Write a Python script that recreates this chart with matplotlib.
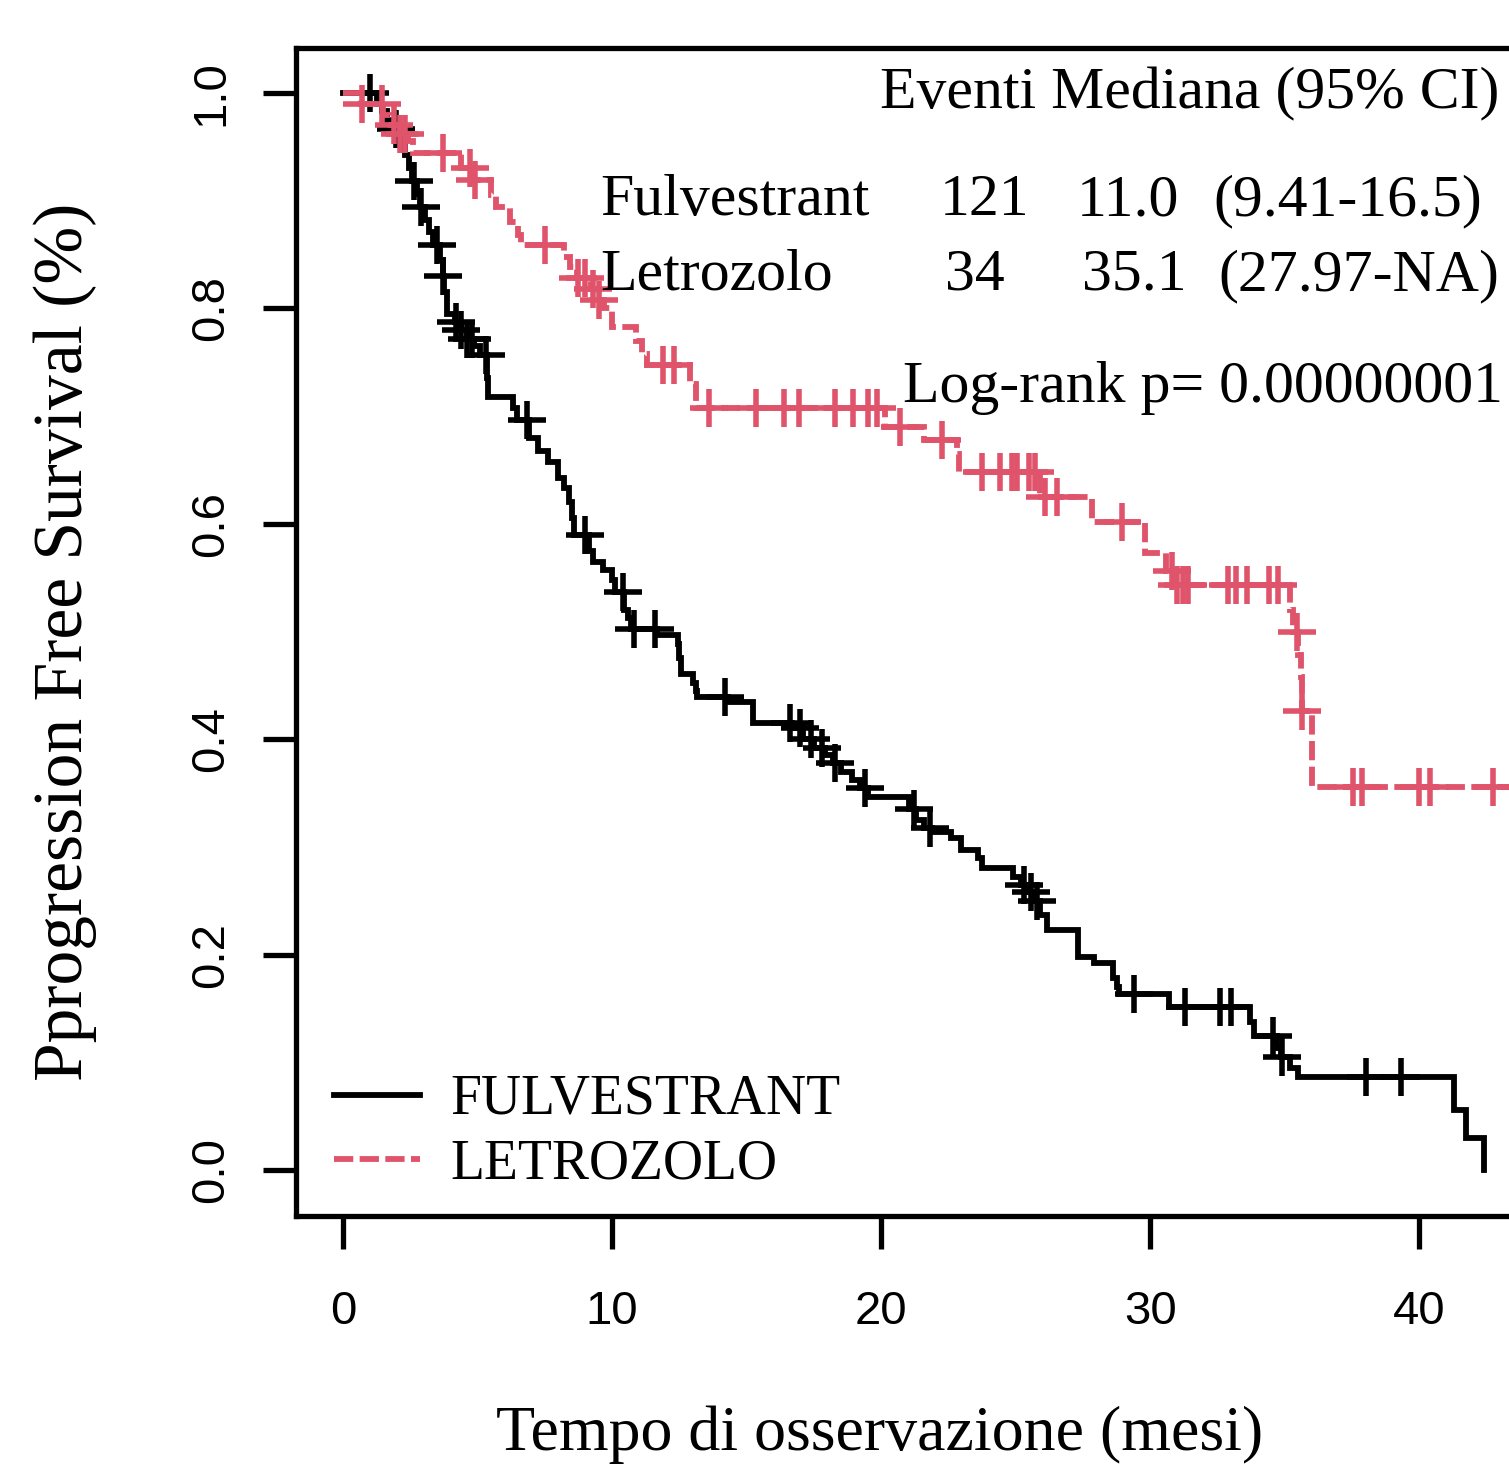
import numpy as np
import matplotlib
matplotlib.use("Agg")
import matplotlib.pyplot as plt

# ---------------- data ----------------
fulv_times = [0, 1.25, 1.45, 1.65, 1.9, 2.2, 2.3, 2.45, 2.55, 2.75, 2.85, 3.05, 3.2, 3.35,
              3.6, 3.7, 3.75, 3.85, 4.15, 4.4, 4.6, 4.85, 5.1, 5.35, 5.4, 6.3, 6.45, 6.9,
              7.25, 7.6, 8.0, 8.2, 8.4, 8.5, 8.6, 9.15, 9.3, 9.65, 10.0, 10.1, 10.45, 10.6,
              10.7, 11.65, 12.45, 12.5, 12.55, 13.0, 13.1, 13.15, 14.3, 15.25, 16.7, 17.1,
              17.5, 17.9, 18.2, 18.5, 18.9, 19.2, 19.5, 21.05, 21.3, 21.6, 21.9, 22.6,
              22.95, 23.6, 23.75, 24.9, 25.2, 25.45, 25.7, 25.9, 26.15, 27.3, 27.9, 28.6,
              28.75, 28.85, 30.7, 33.7, 33.85, 34.7, 34.85, 35.2, 35.5, 41.3, 41.75, 42.4]
fulv_surv = [1.0, 0.99, 0.983, 0.975, 0.967, 0.958, 0.942, 0.93, 0.918, 0.906, 0.894, 0.882,
             0.871, 0.859, 0.845, 0.83, 0.815, 0.795, 0.787, 0.78, 0.772, 0.765, 0.757,
             0.735, 0.718, 0.708, 0.696, 0.68, 0.668, 0.657, 0.643, 0.633, 0.62, 0.605,
             0.59, 0.575, 0.565, 0.557, 0.548, 0.537, 0.52, 0.513, 0.502, 0.497, 0.488,
             0.475, 0.461, 0.452, 0.445, 0.439, 0.435, 0.415, 0.41, 0.40, 0.392, 0.385,
             0.378, 0.37, 0.362, 0.355, 0.346, 0.335, 0.325, 0.318, 0.314, 0.308, 0.297,
             0.29, 0.28, 0.272, 0.265, 0.258, 0.25, 0.237, 0.223, 0.198, 0.192, 0.178,
             0.17, 0.163, 0.151, 0.137, 0.124, 0.113, 0.105, 0.095, 0.0865, 0.056, 0.030,
             0.0]
fulv_censor = [1.0, 1.95, 2.63, 2.9, 3.5, 3.7, 4.2, 4.4, 4.6, 4.8, 5.3, 6.85, 9.0, 10.4,
               10.8, 11.6, 14.2, 16.6, 17.0, 17.4, 17.8, 18.3, 19.4, 21.2, 21.8, 25.3,
               25.55, 25.8, 29.4, 31.3, 32.6, 33.0, 34.55, 34.9, 38.0, 39.3]
fulv_end = 42.4

letro_times = [0, 0.65, 1.5, 1.8, 2.1, 2.4, 2.6, 4.4, 4.8, 5.5, 5.7, 6.2, 6.5, 6.6, 8.2,
               8.45, 8.7, 9.2, 9.5, 9.7, 10.0, 10.9, 11.1, 11.3, 12.9, 13.1, 20.15, 21.6,
               22.8, 22.9, 25.9, 27.85, 29.8, 30.6, 30.9, 35.2, 35.3, 35.5, 35.6, 35.65, 36.0]
letro_surv = [1.0, 0.99, 0.98, 0.97, 0.962, 0.955, 0.944, 0.93, 0.919, 0.905, 0.894, 0.88,
              0.868, 0.859, 0.848, 0.838, 0.828, 0.818, 0.808, 0.80, 0.783, 0.77, 0.758,
              0.747, 0.73, 0.7075, 0.69, 0.678, 0.665, 0.648, 0.625, 0.602, 0.573, 0.556,
              0.543, 0.52, 0.50, 0.478, 0.458, 0.426, 0.356]
letro_censor = [0.7, 1.45, 1.9, 2.1, 2.3, 3.7, 4.7, 4.9, 7.5, 8.75, 9.0, 9.3, 9.5, 11.9,
                12.3, 13.6, 15.35, 16.4, 16.95, 18.3, 18.95, 19.5, 19.85, 20.7, 22.27,
                23.75, 24.4, 24.85, 25.05, 25.5, 25.7, 26.1, 26.55, 28.96, 30.8, 31.0,
                31.2, 31.4, 32.9, 33.2, 33.6, 34.4, 34.75, 35.45, 35.65, 37.55, 37.85,
                40.0, 40.4, 42.75, 43.7]
letro_end = 43.7

groups = ["FULVESTRANT", "LETROZOLO"]
summary_names = ["Fulvestrant", "Letrozolo"]
summary_events = ["121", "34"]
summary_median = ["11.0", "35.1"]
summary_ci = ["(9.41-16.5)", "(27.97-NA)"]
summary_header = "Eventi Mediana (95% CI)"
pvalue_text = "Log-rank p= 0.00000001"
x_ticks = [0, 10, 20, 30, 40]
y_ticks = [0.0, 0.2, 0.4, 0.6, 0.8, 1.0]
y_ticklabels = ["0.0", "0.2", "0.4", "0.6", "0.8", "1.0"]

# ---------------- figure ----------------
W, H = 1509, 1468
fig = plt.figure(figsize=(W / 100, H / 100), dpi=100)
fig.patch.set_facecolor("white")

BLACK = "#000000"
PINK = "#DF536B"
SERIF = ["Liberation Serif", "DejaVu Serif"]
SANS = ["Liberation Sans", "DejaVu Sans"]

ax = fig.add_axes([296 / W, (H - 1216) / H, (1566 - 296) / W, (1216 - 48) / H])
ax.set_xlim(-1.748, 45.448)
ax.set_ylim(-0.0427, 1.0418)

LW = 4.2
def km(times, surv, end, censor, color, ls, label):
    t = list(times) + [end]
    s = list(surv) + [surv[-1]]
    line, = ax.step(t, s, where="post", color=color, lw=LW, linestyle=ls, label=label,
                    solid_joinstyle="miter", dash_joinstyle="miter", dash_capstyle="butt")
    idx = np.searchsorted(np.array(times), np.array(censor), side="right") - 1
    cs = np.array(surv)[idx]
    ax.plot(censor, cs, linestyle="none", marker="+", markersize=27,
            markeredgewidth=4.0, color=color)
    return line

l1 = km(fulv_times, fulv_surv, fulv_end, fulv_censor, BLACK, "-", groups[0])
l2 = km(letro_times, letro_surv, letro_end, letro_censor, PINK, (0, (3.3, 1.1)), groups[1])

# axes styling (R base look)
for side in ["left", "top", "bottom", "right"]:
    ax.spines[side].set_linewidth(3.8)
    ax.spines[side].set_color("black")
ax.set_xticks(x_ticks)
ax.set_xticklabels([str(v) for v in x_ticks], fontfamily=SANS, fontsize=34)
ax.set_yticks(y_ticks)
ax.set_yticklabels(y_ticklabels, fontfamily=SANS, fontsize=34)
ax.tick_params(axis="x", length=23.8, width=3.8, pad=29.5, direction="out")
ax.tick_params(axis="y", length=23.8, width=3.8, pad=21.6, direction="out")
for lab in ax.get_yticklabels():
    lab.set_rotation(90)
    lab.set_va("center")
    lab.set_ha("right")

# axis titles
fig.text(65 / W, 1 - 642 / H, "Pprogression Free Survival (%)", rotation=90,
         ha="center", va="center", fontfamily=SERIF, fontsize=50)
fig.text(880 / W, 1 - 1450 / H, "Tempo di osservazione (mesi)", ha="center",
         va="baseline", fontfamily=SERIF, fontsize=46)

# summary table (top right)
TS = 43
def ftxt(x, y, s):
    fig.text(x / W, 1 - y / H, s, ha="left", va="baseline", fontfamily=SERIF, fontsize=TS)

ftxt(880, 108, summary_header)
row_y = [215, 290]
col_x = [(600, 940, 1077, 1213), (600, 945, 1082, 1218)]
for i in range(2):
    cx = col_x[i]
    ftxt(cx[0], row_y[i], summary_names[i])
    ftxt(cx[1], row_y[i], summary_events[i])
    ftxt(cx[2], row_y[i], summary_median[i])
    ftxt(cx[3], row_y[i], summary_ci[i])
ftxt(903, 402, pvalue_text)

# legend (bottom left)
leg = ax.legend(handles=[l1, l2], labels=groups, loc="upper left",
                bbox_to_anchor=(334 / W, 1 - 1074 / H), bbox_transform=fig.transFigure,
                frameon=False, borderpad=0, borderaxespad=0, handlelength=1.55,
                handletextpad=0.54, labelspacing=0.23,
                prop={"family": SERIF, "size": 40})

fig.savefig("out.png", dpi=100, facecolor="white")
